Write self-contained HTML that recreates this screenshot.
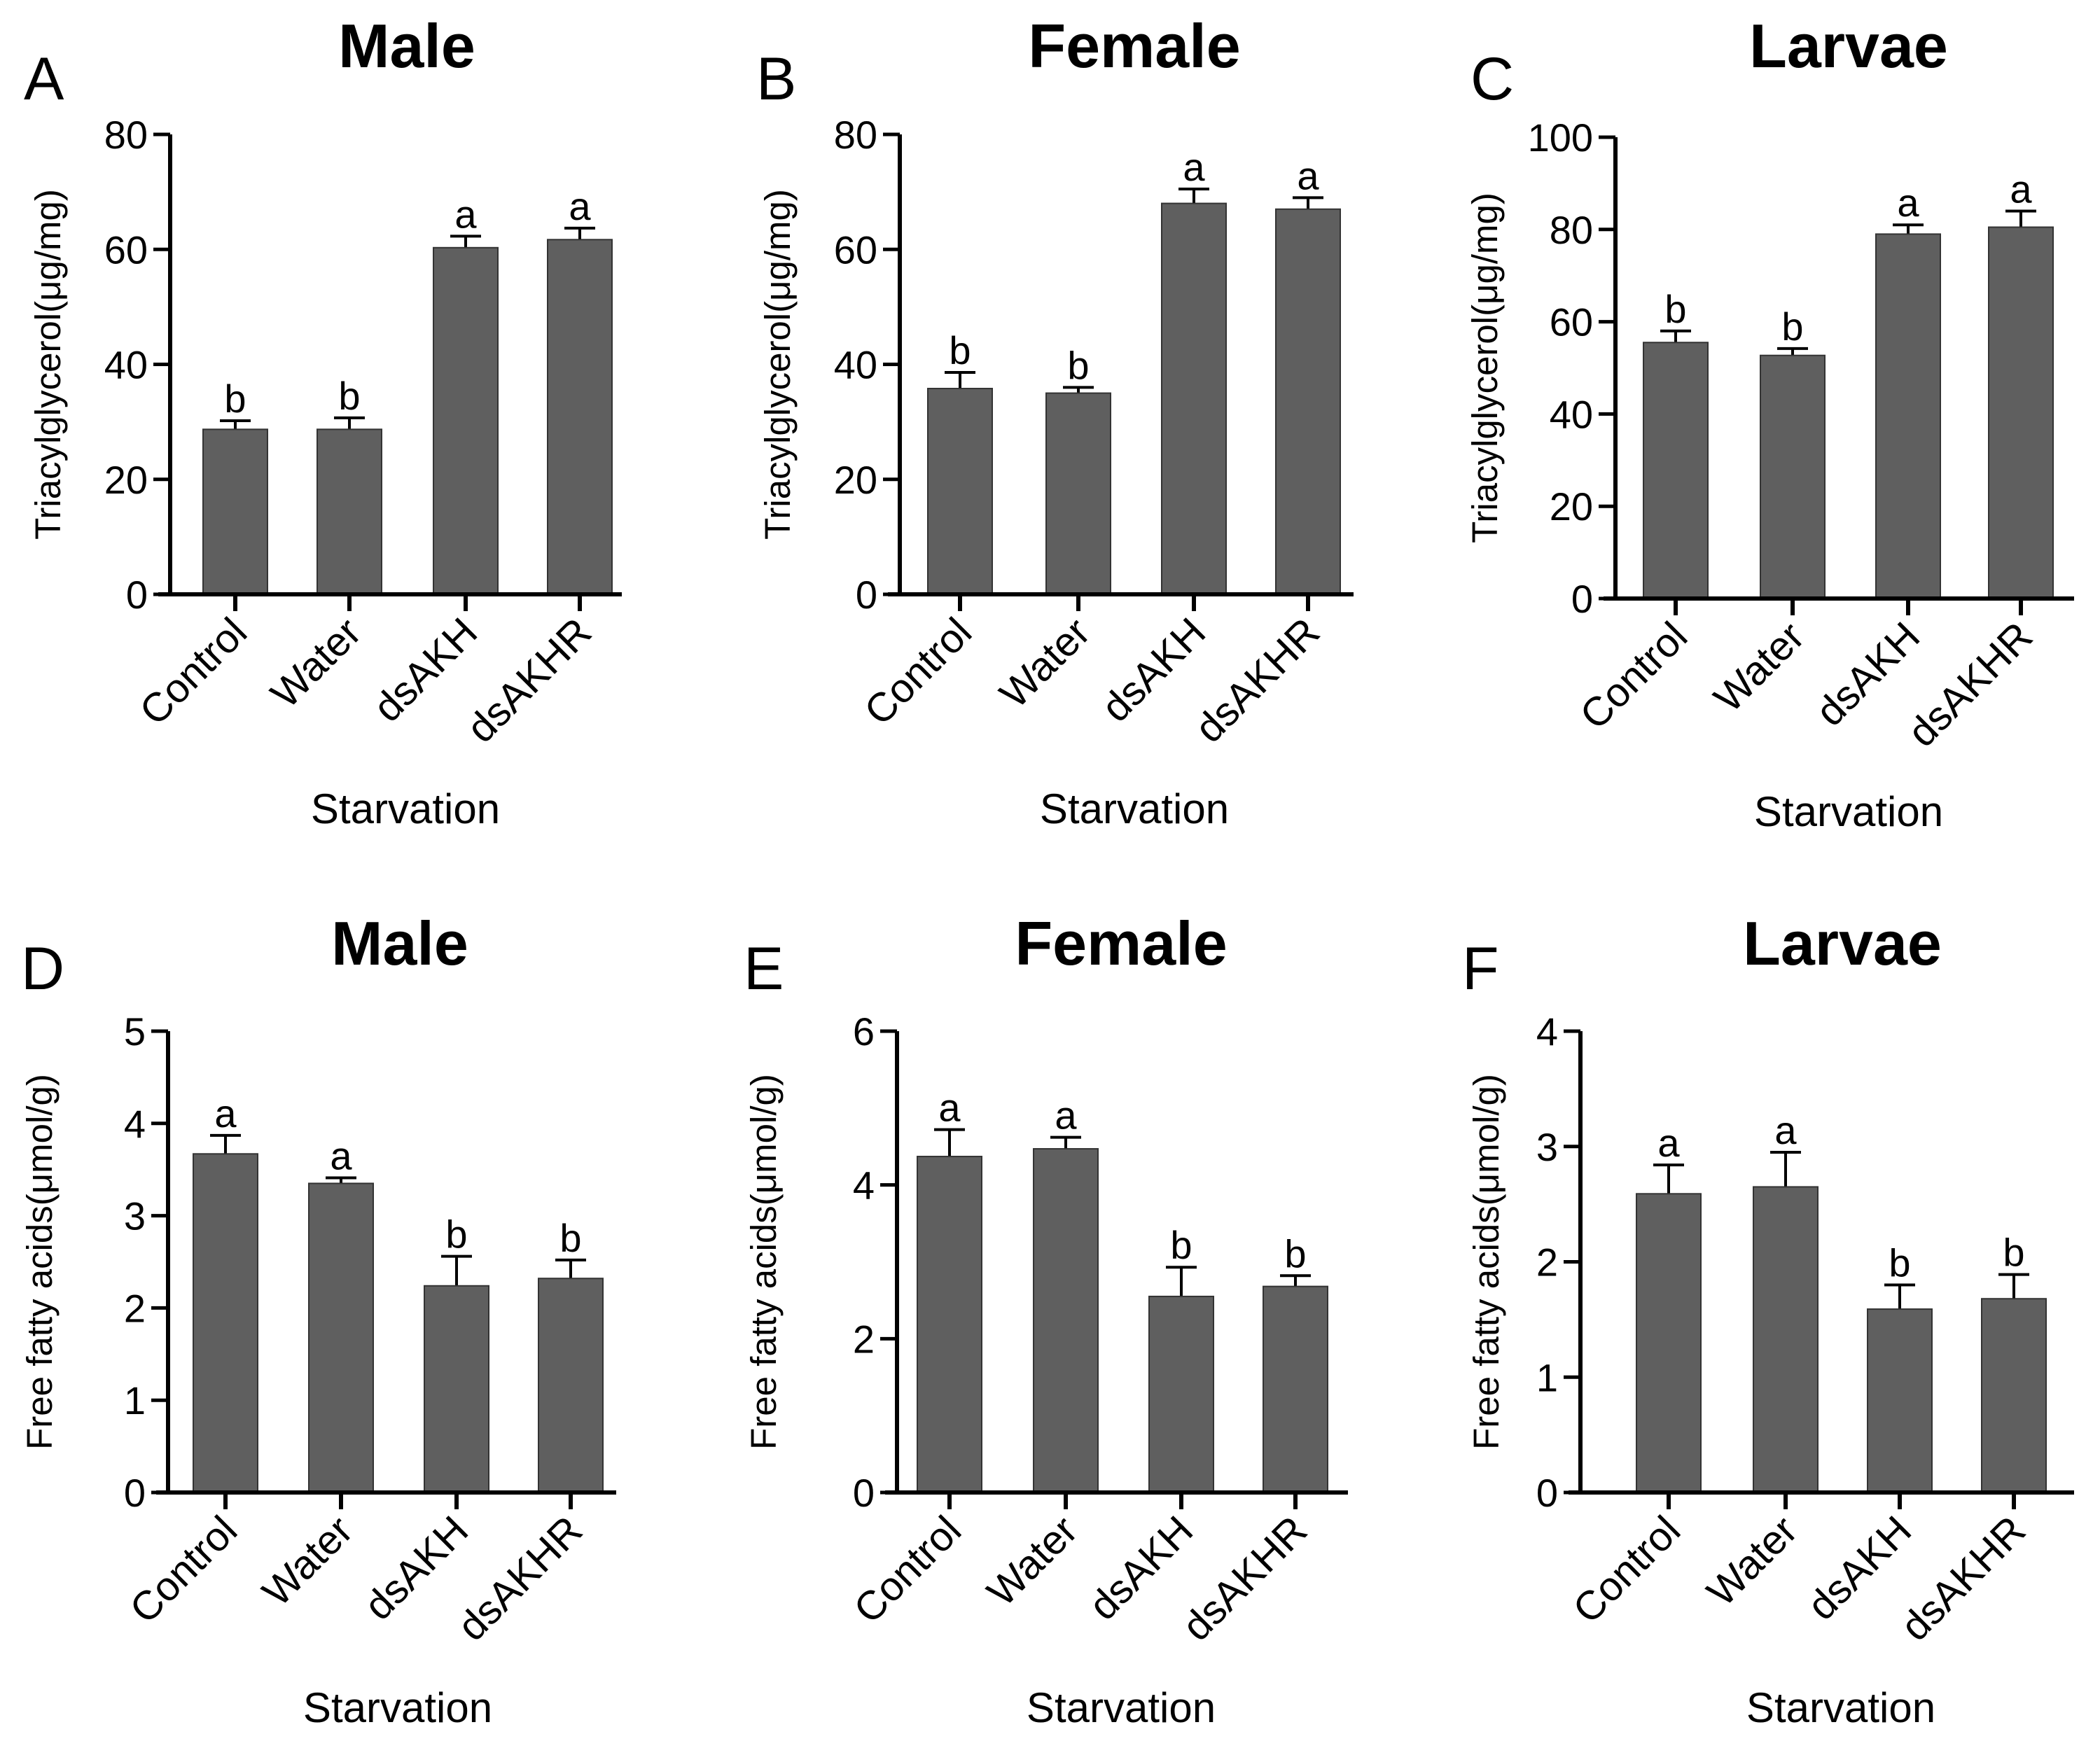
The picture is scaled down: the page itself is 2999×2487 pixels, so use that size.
<!DOCTYPE html>
<html><head><meta charset="utf-8"><style>
html,body{margin:0;padding:0;background:#fff;}
svg{display:block;font-family:"Liberation Sans",Arial,sans-serif;}
</style></head><body>
<svg id="fig" width="2999" height="2487" viewBox="0 0 2999 2487" xmlns="http://www.w3.org/2000/svg"></svg>
<script>
const categories = ["Control","Water","dsAKH","dsAKHR"];
const valuesA = [28.7, 28.7, 60.3, 61.7];
const errorsA = [1.5, 2.0, 2.0, 2.0];
const lettersA = ["b","b","a","a"];
const valuesB = [35.8, 35.0, 68.0, 67.0];
const errorsB = [2.8, 1.0, 2.5, 2.0];
const lettersB = ["b","b","a","a"];
const valuesC = [55.5, 52.7, 79.0, 80.5];
const errorsC = [2.5, 1.5, 2.0, 3.5];
const lettersC = ["b","b","a","a"];
const valuesD = [3.67, 3.35, 2.24, 2.32];
const errorsD = [0.2, 0.06, 0.32, 0.2];
const lettersD = ["a","a","b","b"];
const valuesE = [4.37, 4.47, 2.55, 2.68];
const errorsE = [0.35, 0.15, 0.38, 0.14];
const lettersE = ["a","a","b","b"];
const valuesF = [2.59, 2.65, 1.59, 1.68];
const errorsF = [0.25, 0.3, 0.21, 0.21];
const lettersF = ["a","a","b","b"];
const ticksA = [0,20,40,60,80];
const ticksB = [0,20,40,60,80];
const ticksC = [0,20,40,60,80,100];
const ticksD = [0,1,2,3,4,5];
const ticksE = [0,2,4,6];
const ticksF = [0,1,2,3,4];

const NS="http://www.w3.org/2000/svg";
const svg=document.getElementById('fig');
function mk(tag,attrs,parent,text){const e=document.createElementNS(NS,tag);for(const k in attrs)e.setAttribute(k,attrs[k]);if(text!==undefined)e.textContent=text;(parent||svg).appendChild(e);return e;}

const panels=[
 {id:'a',letter:'A',title:'Male',ylab:'Triacylglycerol(μg/mg)',vals:valuesA,errs:errorsA,lets:lettersA,ticks:ticksA,ax:243,top:192,bot:849,xs:226,xe:888,cs:[336,499,665,828],tx:581,ty:96,lx:34,ly:142,ylx:68,sx:579,sy:1176},
 {id:'b',letter:'B',title:'Female',ylab:'Triacylglycerol(μg/mg)',vals:valuesB,errs:errorsB,lets:lettersB,ticks:ticksB,ax:1285,top:192,bot:849,xs:1268,xe:1933,cs:[1371,1540,1705,1868],tx:1620,ty:96,lx:1080,ly:142,ylx:1110,sx:1620,sy:1176},
 {id:'c',letter:'C',title:'Larvae',ylab:'Triacylglycerol(μg/mg)',vals:valuesC,errs:errorsC,lets:lettersC,ticks:ticksC,ax:2307,top:196,bot:855,xs:2290,xe:2962,cs:[2393,2560,2725,2886],tx:2640,ty:96,lx:2100,ly:142,ylx:2120,sx:2640,sy:1180},
 {id:'d',letter:'D',title:'Male',ylab:'Free fatty acids(μmol/g)',vals:valuesD,errs:errorsD,lets:lettersD,ticks:ticksD,ax:240,top:1473,bot:2132,xs:223,xe:880,cs:[322,487,652,815],tx:571,ty:1378,lx:30,ly:1413,ylx:56,sx:568,sy:2460},
 {id:'e',letter:'E',title:'Female',ylab:'Free fatty acids(μmol/g)',vals:valuesE,errs:errorsE,lets:lettersE,ticks:ticksE,ax:1281,top:1473,bot:2132,xs:1264,xe:1925,cs:[1356,1522,1687,1850],tx:1601,ty:1378,lx:1062,ly:1413,ylx:1090,sx:1601,sy:2460},
 {id:'f',letter:'F',title:'Larvae',ylab:'Free fatty acids(μmol/g)',vals:valuesF,errs:errorsF,lets:lettersF,ticks:ticksF,ax:2257,top:1473,bot:2132,xs:2240,xe:2962,cs:[2383,2550,2713,2876],tx:2631,ty:1378,lx:2088,ly:1413,ylx:2122,sx:2629,sy:2460}
];

panels.forEach(p=>{
 const g=mk('g',{});
 
 
 const maxV=p.ticks[p.ticks.length-1];
 const y=v=>p.bot-(v/maxV)*(p.bot-p.top);
 const bw=92;
 p.vals.forEach((v,i)=>{
  const cx=p.cs[i];
  const top=y(v+p.errs[i]);
  const el=mk('line',{x1:cx,x2:cx,y1:y(v),y2:top,stroke:'#000','stroke-width':4},g);
  
  
  const cap=mk('line',{x1:cx-22,x2:cx+22,y1:top,y2:top,stroke:'#000','stroke-width':4},g);
  
  
  const r=mk('rect',{x:cx-bw/2,y:y(v),width:bw,height:p.bot-y(v),fill:'#5f5f5f',stroke:'#333','stroke-width':2},g);
  
  
  const t=mk('text',{x:cx,y:top-12,'font-size':56,'text-anchor':'middle',fill:'#000'},g,p.lets[i]);
  
  
  const tk=mk('line',{x1:cx,x2:cx,y1:p.bot,y2:p.bot+24,stroke:'#000','stroke-width':6},g);
  
  
  const lx=cx+20, ly=p.bot+58;
  const cl=mk('text',{x:lx,y:ly,'font-size':58,'text-anchor':'end',transform:`rotate(-45 ${lx} ${ly})`,fill:'#000'},g,categories[i]);
  
  
 });
 const ya=mk('line',{x1:p.ax,x2:p.ax,y1:p.top,y2:p.bot+3,stroke:'#000','stroke-width':6},g);
 
 
 const xa=mk('line',{x1:p.xs,x2:p.xe,y1:p.bot,y2:p.bot,stroke:'#000','stroke-width':6},g);
 
 
 p.ticks.forEach(tv=>{
  const yy=y(tv);
  const tk=mk('line',{x1:p.ax-24,x2:p.ax,y1:yy,y2:yy,stroke:'#000','stroke-width':5},g);
  
  
  const tl=mk('text',{x:p.ax-32,y:yy+20,'font-size':56,'text-anchor':'end',fill:'#000'},g,String(tv));
  
  
 });
 const ym=(p.top+p.bot)/2;
 const yl=mk('text',{x:p.ylx,y:ym,'font-size':51,'text-anchor':'middle',transform:`rotate(-90 ${p.ylx} ${ym})`,dy:18,fill:'#000'},g,p.ylab);
 
 
 const ti=mk('text',{x:p.tx,y:p.ty,'font-size':88,'font-weight':'bold','text-anchor':'middle',fill:'#000'},g,p.title);
 
 
 const le=mk('text',{x:p.lx,y:p.ly,'font-size':86,fill:'#000'},g,p.letter);
 
 
 const st=mk('text',{x:p.sx,y:p.sy,'font-size':60,'text-anchor':'middle',fill:'#000'},g,'Starvation');
 
 
});
</script>
</body></html>
